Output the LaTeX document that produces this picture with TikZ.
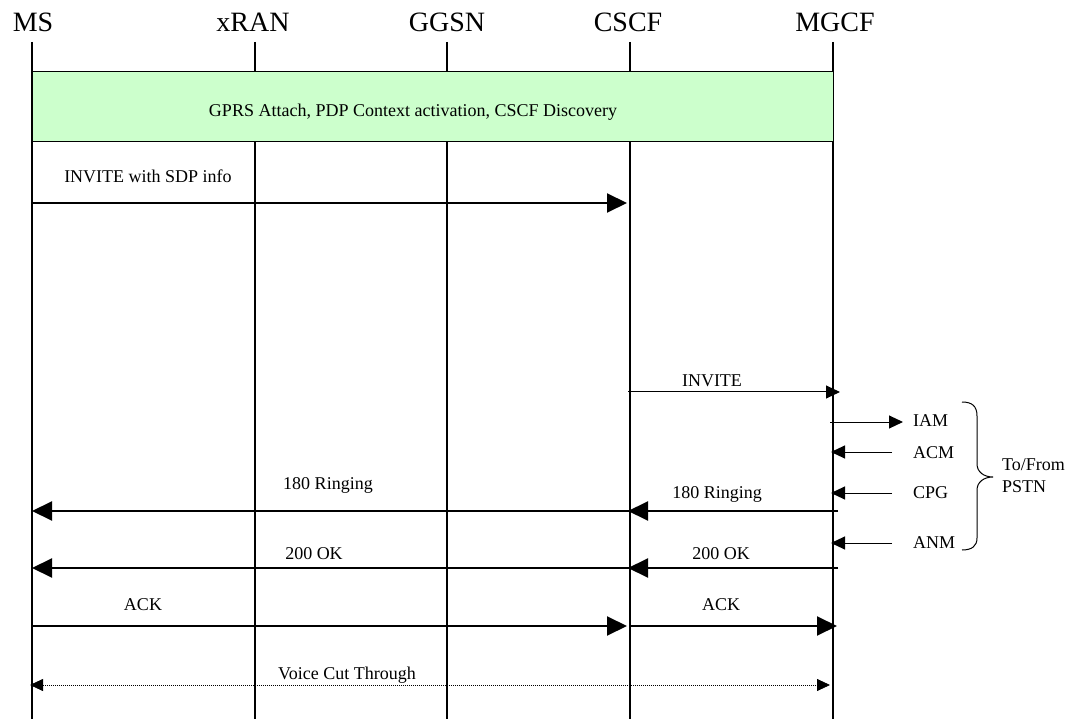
\documentclass[tikz,border=0pt]{standalone}
\usepackage{fontspec}
\setmainfont{Liberation Serif}
\usetikzlibrary{arrows.meta}
\definecolor{boxgreen}{RGB}{204,255,204}
\tikzset{
  hdr/.style={anchor=base,font=\fontsize{28}{30}\selectfont,inner sep=0pt},
  lbl/.style={anchor=base,font=\fontsize{18}{22}\selectfont,inner sep=0pt},
  lbll/.style={lbl,anchor=base west},
  lifeline/.style={line width=1.3pt},
  msgthick/.style={line width=2pt,-{Triangle[length=20pt,width=19pt]}},
  msgthin/.style={line width=1pt,-{Triangle[length=14pt,width=13pt]}},
  voice/.style={line width=0.8pt,dash pattern=on 1pt off 1pt,{Triangle[length=13pt,width=12pt]}-{Triangle[length=13pt,width=12pt]}},
  bracepath/.style={line width=1pt}
}
\begin{document}
\begin{tikzpicture}[x=1pt,y=-1pt]
\useasboundingbox (0,0) rectangle (1085,719);
% headers
\node[hdr] (hMS) at (33,32) {MS};
\node[hdr] (hRAN) at (253,32) {xRAN};
\node[hdr] (hGG) at (447,32) {GGSN};
\node[hdr] (hCS) at (628,32) {CSCF};
\node[hdr] (hMG) at (835,32) {MGCF};
% lifelines
\coordinate (msT) at (32,42);  \coordinate (msB) at (32,719);
\coordinate (raT) at (255,42); \coordinate (raB) at (255,719);
\coordinate (ggT) at (447,42); \coordinate (ggB) at (447,719);
\coordinate (csT) at (630,42); \coordinate (csB) at (630,719);
\coordinate (mgT) at (833,42); \coordinate (mgB) at (833,719);
\draw[lifeline] (msT) -- (msB);
\draw[lifeline] (raT) -- (raB);
\draw[lifeline] (ggT) -- (ggB);
\draw[lifeline] (csT) -- (csB);
\draw[lifeline] (mgT) -- (mgB);
% green box
\coordinate (boxA) at (32,72);
\coordinate (boxB) at (833,142);
\filldraw[fill=boxgreen,draw=black,line width=1pt] (boxA) rectangle (boxB);
\node[lbl] (boxtxt) at (413,117) {GPRS Attach, PDP Context activation, CSCF Discovery};
% message endpoints
\coordinate (m1a) at (32,203);  \coordinate (m1b) at (627,203);
\coordinate (m2a) at (628,392); \coordinate (m2b) at (840,392);
\coordinate (m3a) at (830,422); \coordinate (m3b) at (903,422);
\coordinate (m4a) at (892,452); \coordinate (m4b) at (831,452);
\coordinate (m5a) at (892,493); \coordinate (m5b) at (831,493);
\coordinate (m6a) at (892,543); \coordinate (m6b) at (831,543);
\coordinate (r1a) at (838,511); \coordinate (r1b) at (628,511);
\coordinate (r2a) at (630,511); \coordinate (r2b) at (32,511);
\coordinate (o1a) at (838,568); \coordinate (o1b) at (628,568);
\coordinate (o2a) at (630,568); \coordinate (o2b) at (32,568);
\coordinate (k1a) at (32,626);  \coordinate (k1b) at (627,626);
\coordinate (k2a) at (630,626); \coordinate (k2b) at (837,626);
\coordinate (va) at (30,685);   \coordinate (vb) at (830,685);
% messages
\draw[msgthick] (m1a) -- (m1b);
\node[lbl] (l1) at (148,183) {INVITE with SDP info};
\draw[msgthin] (m2a) -- (m2b);
\node[lbl] (l2) at (712,387) {INVITE};
\draw[msgthin] (m3a) -- (m3b);
\node[lbll] (l3) at (913,427) {IAM};
\draw[msgthin] (m4a) -- (m4b);
\node[lbll] (l4) at (913,458) {ACM};
\draw[msgthin] (m5a) -- (m5b);
\node[lbll] (l5) at (913,498) {CPG};
\draw[msgthin] (m6a) -- (m6b);
\node[lbll] (l6) at (913,548) {ANM};
\draw[msgthick] (r1a) -- (r1b);
\node[lbl] (l7) at (717,498) {180 Ringing};
\draw[msgthick] (r2a) -- (r2b);
\node[lbl] (l8) at (328,489) {180 Ringing};
\draw[msgthick] (o1a) -- (o1b);
\node[lbl] (l9) at (721,559) {200 OK};
\draw[msgthick] (o2a) -- (o2b);
\node[lbl] (l10) at (314,559) {200 OK};
\draw[msgthick] (k1a) -- (k1b);
\node[lbl] (l11) at (143,610) {ACK};
\draw[msgthick] (k2a) -- (k2b);
\node[lbl] (l12) at (721,610) {ACK};
\draw[voice] (va) -- (vb);
\node[lbl] (l13) at (347,679) {Voice Cut Through};
% brace
\draw[bracepath] (962,402) .. controls (972,402) and (977,406) .. (977,416) -- (977,464)
  .. controls (977,472) and (984,477) .. (993,477)
  .. controls (984,477) and (977,482) .. (977,490) -- (977,538)
  .. controls (977,546) and (972,550) .. (962,550);
\node[lbll] (pst1) at (1002,470) {To/From};
\node[lbll] (pst2) at (1002,492) {PSTN};
\end{tikzpicture}
\end{document}
